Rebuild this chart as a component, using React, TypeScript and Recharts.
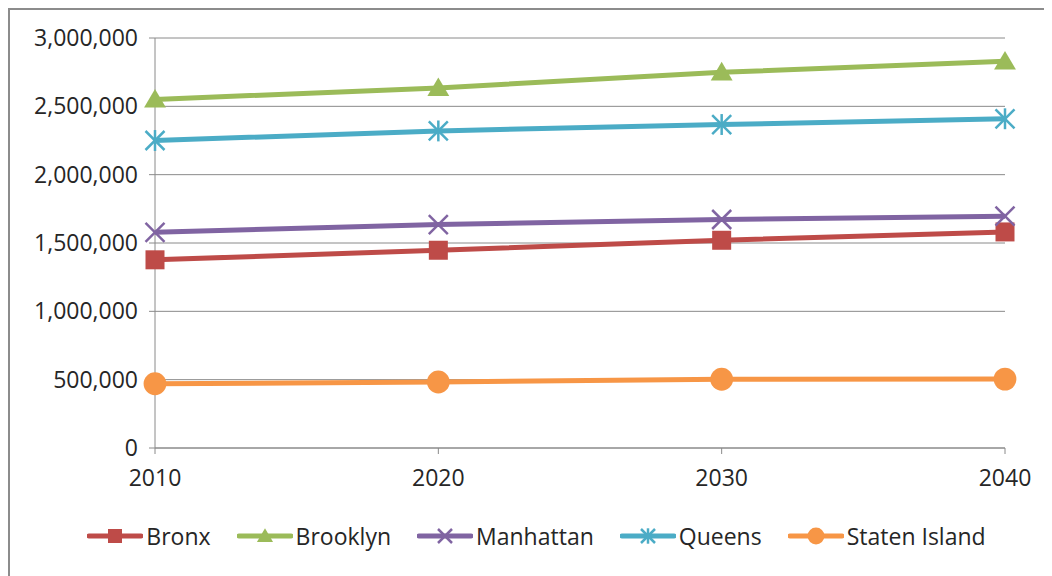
import React from "react";
import {
  LineChart,
  Line,
  XAxis,
  YAxis,
  CartesianGrid,
  Legend,
} from "recharts";

const years = ["2010", "2020", "2030", "2040"];
const bronx = [1377000, 1447000, 1520000, 1581000];
const brooklyn = [2550000, 2635000, 2749000, 2829000];
const manhattan = [1578000, 1635000, 1672000, 1696000];
const queens = [2250000, 2320000, 2367000, 2409000];
const statenIsland = [470000, 483000, 503000, 504000];
const yTicks = [0, 500000, 1000000, 1500000, 2000000, 2500000, 3000000];

const FONT = "'Open Sans', sans-serif";
const TEXT = "#262626";

type Marker = "square" | "triangle" | "x" | "star" | "circle";

const series: { key: string; name: string; color: string; marker: Marker }[] = [
  { key: "bronx", name: "Bronx", color: "#BE4B48", marker: "square" },
  { key: "brooklyn", name: "Brooklyn", color: "#9BBB59", marker: "triangle" },
  { key: "manhattan", name: "Manhattan", color: "#8064A2", marker: "x" },
  { key: "queens", name: "Queens", color: "#4BACC6", marker: "star" },
  { key: "statenIsland", name: "Staten Island", color: "#F79646", marker: "circle" },
];

const data = years.map((year, i) => ({
  year,
  bronx: bronx[i],
  brooklyn: brooklyn[i],
  manhattan: manhattan[i],
  queens: queens[i],
  statenIsland: statenIsland[i],
}));

function drawMarker(marker: Marker, cx: number, cy: number, color: string, s: number) {
  switch (marker) {
    case "square":
      return <rect x={cx - s} y={cy - s} width={s * 2} height={s * 2} fill={color} />;
    case "triangle":
      return (
        <polygon
          points={`${cx},${cy - s * 1.1} ${cx + s * 1.15},${cy + s * 0.85} ${cx - s * 1.15},${cy + s * 0.85}`}
          fill={color}
        />
      );
    case "x":
      return (
        <g stroke={color} strokeWidth={2.5}>
          <line x1={cx - s} y1={cy - s} x2={cx + s} y2={cy + s} />
          <line x1={cx - s} y1={cy + s} x2={cx + s} y2={cy - s} />
        </g>
      );
    case "star":
      return (
        <g stroke={color} strokeWidth={2.5}>
          <line x1={cx - s} y1={cy - s} x2={cx + s} y2={cy + s} />
          <line x1={cx - s} y1={cy + s} x2={cx + s} y2={cy - s} />
          <line x1={cx} y1={cy - s * 1.1} x2={cx} y2={cy + s * 1.1} />
        </g>
      );
    default:
      return <circle cx={cx} cy={cy} r={s * 1.2} fill={color} />;
  }
}

const makeDot = (marker: Marker, color: string) => (props: any) => {
  const { cx, cy, index } = props;
  if (cx == null || cy == null) return <g key={`d-${index}`} />;
  return <g key={`d-${index}`}>{drawMarker(marker, cx, cy, color, 9.5)}</g>;
};

function LegendContent() {
  return (
    <div
      style={{
        display: "flex",
        justifyContent: "center",
        gap: 26,
        paddingTop: 22,
        paddingLeft: 58,
        fontFamily: FONT,
        fontSize: 23,
        color: TEXT,
      }}
    >
      {series.map((s) => (
        <div key={s.key} style={{ display: "flex", alignItems: "center", gap: 3 }}>
          <svg width={56} height={24}>
            <line x1={2} y1={12} x2={54} y2={12} stroke={s.color} strokeWidth={5} strokeLinecap="round" />
            {drawMarker(s.marker, 28, 12, s.color, 7)}
          </svg>
          <span>{s.name}</span>
        </div>
      ))}
    </div>
  );
}

export default function App() {
  return (
    <div
      style={{
        width: 1036,
        height: 590,
        border: "2px solid #8c8c8c",
        background: "#fff",
      }}
    >
      <LineChart
        width={1036}
        height={560}
        data={data}
        margin={{ top: 28, right: 41, bottom: 22, left: 0 }}
      >
        <CartesianGrid vertical={false} stroke="#8a8a8a" />
        <XAxis
          dataKey="year"
          stroke="#8a8a8a"
          tickSize={6}
          tickMargin={16}
          height={50}
          tick={{ fill: TEXT, fontFamily: FONT, fontSize: 23 }}
        />
        <YAxis
          width={145}
          domain={[0, 3000000]}
          ticks={yTicks}
          stroke="#8a8a8a"
          tickSize={6}
          tickMargin={11}
          tickFormatter={(v: number) => v.toLocaleString("en-US")}
          tick={{ fill: TEXT, fontFamily: FONT, fontSize: 23 }}
        />
        <Legend verticalAlign="bottom" height={50} content={() => <LegendContent />} />
        {series.map((s) => (
          <Line
            key={s.key}
            dataKey={s.key}
            name={s.name}
            stroke={s.color}
            strokeWidth={5}
            dot={makeDot(s.marker, s.color)}
            activeDot={false}
            isAnimationActive={false}
          />
        ))}
      </LineChart>
    </div>
  );
}
